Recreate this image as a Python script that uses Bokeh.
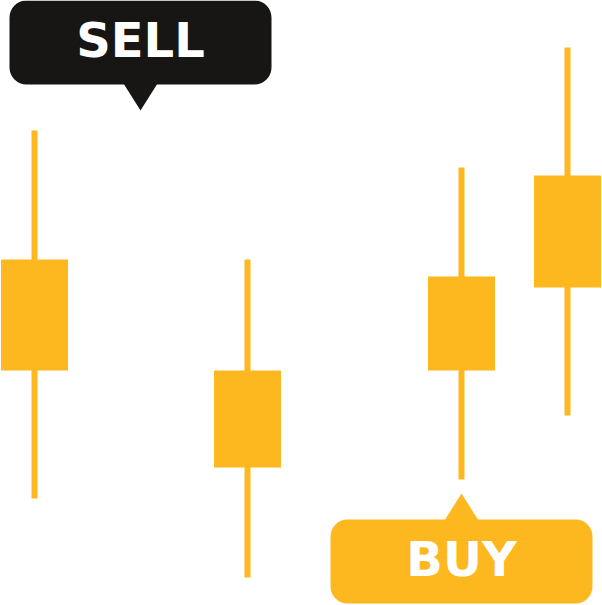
from bokeh.core.properties import value
from bokeh.embed import file_html
from bokeh.models import Range1d
from bokeh.plotting import figure
from bokeh.resources import INLINE

# candles (price units, higher is up)
candle_x = [34, 247, 461, 567]
highs = [475, 346, 438, 558]
lows = [107, 28, 126, 190]
opens = [346, 235, 235, 318]
closes = [235, 138, 329, 430]

# trade signals: label, box centre x, box bottom, box top, pointer tip
signal_labels = ["SELL", "BUY"]
signal_x = [140, 461]
signal_bottom = [521, 2]
signal_top = [605, 86]
signal_tip = [495, 112]

GOLD = "#FDB71F"
BLACK = "#171615"

p = figure(width=602, height=605, output_backend="svg", toolbar_location=None,
           x_range=Range1d(0, 602), y_range=Range1d(0, 605), min_border=0)
p.axis.visible = False
p.grid.visible = False
p.outline_line_color = None
p.background_fill_color = "white"

# wicks + bodies
p.segment(x0=candle_x, y0=lows, x1=candle_x, y1=highs, line_color=GOLD, line_width=6)
p.vbar(x=candle_x, width=67, top=[max(o, c) for o, c in zip(opens, closes)],
       bottom=[min(o, c) for o, c in zip(opens, closes)], fill_color=GOLD, line_color=None)

# speech-bubble callouts
box_colors = [BLACK, GOLD]
half_w = 131
p.quad(left=[x - half_w for x in signal_x], right=[x + half_w for x in signal_x],
       bottom=signal_bottom, top=signal_top, fill_color=box_colors, line_color=None,
       border_radius=17)

tri_xs, tri_ys = [], []
for x, b, t, tip in zip(signal_x, signal_bottom, signal_top, signal_tip):
    base = b if tip < b else t
    tri_xs.append([x - 17, x + 17, x])
    tri_ys.append([base + (1 if tip < b else -1), base + (1 if tip < b else -1), tip])
p.patches(xs=tri_xs, ys=tri_ys, fill_color=box_colors, line_color=None)

p.text(x=signal_x, y=[b + 45 for b in signal_bottom], text=signal_labels,
       text_color="white", text_font=value("DejaVu Sans"), text_font_style="bold",
       text_font_size="48px", text_align="center", text_baseline="alphabetic")

open("out.html", "w").write(file_html(p, INLINE))
